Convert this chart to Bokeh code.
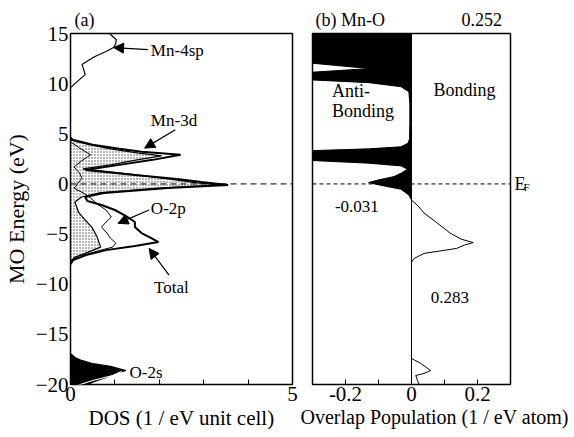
import numpy as np
from bokeh.plotting import figure
from bokeh.layouts import row
from bokeh.models import (Range1d, FixedTicker, Label, Arrow, NormalHead, Span, Title,
                          LinearAxis)
from bokeh.embed import file_html
from bokeh.resources import INLINE

FONT = "Liberation Serif"

# ---------------- data ----------------
# (a) DOS, energies in eV, DOS in 1/eV unit cell
e_total = [4.6, 4.4, 3.9, 3.5, 3.2, 2.9, 2.4, 1.9, 1.4, 0.9, 0.5, 0.2, -0.1, -0.4, -0.9, -1.3,
           -1.7, -2.1, -2.6, -3.2, -3.8, -4.3, -4.9, -5.4, -5.8, -6.2, -6.6, -7.1, -7.6, -8.0]
dos_total = [0.0, 0.05, 0.5, 1.1, 1.6, 2.48, 1.85, 1.1, 0.33, 1.45, 2.4, 2.95, 3.55, 2.2, 0.75, 0.33,
             0.38, 0.7, 1.0, 1.25, 1.45, 1.45, 1.6, 1.82, 1.98, 1.45, 0.8, 0.35, 0.06, 0.0]

e_mn3d = [4.4, 4.0, 3.5, 3.1, 2.8, 2.4, 1.9, 1.5, 1.0, 0.5, 0.1, -0.1, -0.4, -0.9, -1.3, -1.8,
          -2.8, -3.6, -4.3, -5.3, -6.3, -6.8, -7.3, -7.7]
dos_mn3d = [0.0, 0.35, 0.9, 1.5, 2.05, 1.5, 0.9, 0.28, 1.3, 2.2, 2.85, 3.4, 2.05, 0.65, 0.25, 0.1,
            0.18, 0.33, 0.48, 0.6, 0.68, 0.4, 0.1, 0.0]

e_o2p = [4.2, 3.6, 2.9, 2.3, 1.7, 1.1, 0.57, -0.43, -0.93, -1.4, -2.0, -2.6, -3.3, -3.8, -4.3,
         -4.9, -5.4, -5.9, -6.3, -6.7, -7.2, -7.6]
dos_o2p = [0.0, 0.2, 0.45, 0.25, 0.08, 0.2, 0.26, 0.08, 0.3, 0.45, 0.6, 0.8, 0.92, 0.8, 0.7,
           0.82, 0.9, 1.02, 0.95, 0.6, 0.2, 0.02]

e_mn4sp = [9.6, 10.2, 10.9, 11.4, 11.9, 12.3, 12.7, 13.2, 13.6, 14.0, 14.4, 14.7, 15.0, 15.5]
dos_mn4sp = [0.0, 0.15, 0.33, 0.3, 0.26, 0.4, 0.55, 0.8, 0.97, 1.02, 1.03, 0.95, 0.88, 0.8]

e_o2s = [-16.9, -17.3, -17.6, -17.9, -18.2, -18.6, -18.9, -19.3, -19.8, -20.3]
dos_o2s = [0.0, 0.1, 0.25, 0.47, 0.9, 1.25, 1.0, 0.8, 0.48, 0.3]
e_o2s_part = [-20.1, -19.6, -19.1, -18.7]
dos_o2s_part = [0.15, 0.5, 0.95, 1.15]

# (b) Mn-O overlap population (1 / eV atom)
e_op = [15.5, 12.3, 12.1, 11.5, 11.1, 10.9, 10.6, 10.4, 10.1, 9.7, 9.2, 8.0, 6.0, 4.5, 4.07,
        3.7, 3.5, 3.33, 3.0, 2.5, 2.33, 2.07, 1.8, 1.47, 1.1, 0.73, 0.4, 0.13, -0.2, -0.53,
        -1.1, -1.6, -2.2, -2.9, -3.9, -4.9, -5.5, -5.85, -6.1, -6.43, -6.93, -7.43, -7.8,
        -17.4, -17.9, -18.6, -18.9, -19.1, -19.6, -20.0]
op = [-0.6, -0.6, -0.32, -0.127, -0.32, -0.6, -0.6, -0.32, -0.13, -0.032, -0.008, -0.005, -0.005,
      -0.006, -0.01, -0.032, -0.13, -0.29, -0.6, -0.6, -0.3, -0.13, -0.032, -0.012, -0.03,
      -0.053, -0.1, -0.13, -0.083, -0.032, -0.008, 0.0, 0.02, 0.038, 0.078, 0.117, 0.15,
      0.187, 0.16, 0.137, 0.038, 0.008, 0.0, 0.0, 0.028, 0.058, 0.038, 0.013, 0.018, 0.023]

y_ticks = [-20, -15, -10, -5, 0, 5, 10, 15]
dos_ticks = [0, 5]
dos_minor = [1, 2, 3, 4]
op_ticks = [-0.2, 0, 0.2]
op_minor = [-0.1, 0.1]

NB = "\u00a0"


def style(p):
    p.grid.visible = False
    p.outline_line_color = "black"
    p.outline_line_width = 1.5
    for ax in p.axis:
        ax.axis_line_color = None
        ax.major_label_text_font = FONT
        ax.major_label_text_font_size = "21px"
        ax.major_label_text_color = "black"
        ax.major_label_standoff = 2
        ax.major_tick_out = 0
        ax.minor_tick_out = 0
    p.background_fill_color = "white"


def lab(p, x, y, text, size="17px", align="left", baseline="middle"):
    p.add_layout(Label(x=x, y=y, text=text, text_font=FONT, text_font_size=size,
                       text_align=align, text_baseline=baseline, text_color="black"))


def arrow(p, xs, ys, xe, ye):
    p.add_layout(Arrow(end=NormalHead(size=10, fill_color="black", line_color="black",
                                      line_width=1),
                       x_start=xs, y_start=ys, x_end=xe, y_end=ye,
                       line_color="black", line_width=1.2))


def title(text, size, align, offset, standoff):
    return Title(text=text, text_font=FONT, text_font_size=size, text_font_style="normal",
                 text_color="black", align=align, offset=offset, standoff=standoff)


# ---------------- panel (a) ----------------
p1 = figure(width=298, height=437, x_range=Range1d(0, 5), y_range=Range1d(-20, 15),
            output_backend="svg", toolbar_location=None,
            min_border_left=66, min_border_right=6, min_border_top=33, min_border_bottom=53)
p1.title = title("(a)", "18px", "left", 4, 7)

p1.harea(y=e_mn3d, x1=0, x2=dos_mn3d, fill_alpha=0, hatch_pattern="dot",
         hatch_color="black", hatch_scale=3, hatch_alpha=0.7, hatch_weight=1)
p1.line(dos_mn3d, e_mn3d, line_color="black", line_width=1.2)
p1.line(dos_o2p, e_o2p, line_color="black", line_width=1.0)
p1.line(dos_total, e_total, line_color="black", line_width=2.0)
p1.line(dos_mn4sp, e_mn4sp, line_color="black", line_width=1.2)
p1.harea(y=e_o2s, x1=0, x2=dos_o2s, fill_color="black")
p1.line(dos_o2s, e_o2s, line_color="black", line_width=1.2)
p1.line(dos_o2s_part, e_o2s_part, line_color="white", line_width=1.2)

p1.add_layout(Span(location=0, dimension="width", line_color="black",
                   line_width=1, line_dash="6 4"))

style(p1)
p1.yaxis.ticker = FixedTicker(ticks=y_ticks)
p1.yaxis.major_label_standoff = 2
p1.yaxis.major_tick_in = 0
p1.yaxis.minor_tick_in = 0
p1.yaxis.axis_label = "MO Energy (eV)"
p1.yaxis.axis_label_text_font = FONT
p1.yaxis.axis_label_text_font_size = "22px"
p1.yaxis.axis_label_text_font_style = "normal"
p1.yaxis.axis_label_text_color = "black"
p1.yaxis.axis_label_standoff = 4
p1.xaxis.ticker = FixedTicker(ticks=dos_ticks, minor_ticks=dos_minor)
p1.xaxis.major_tick_in = 5
p1.xaxis.minor_tick_in = 5
p1.xaxis.minor_tick_line_color = "black"
p1.add_layout(title("DOS (1 / eV unit cell)", "21px", "center", 6, 0), "below")

arrow(p1, 1.75, 13.4, 0.97, 13.6)
lab(p1, 1.81, 13.3, "Mn-4sp")
arrow(p1, 2.36, 5.4, 1.67, 3.57)
lab(p1, 1.81, 6.35, "Mn-3d")
arrow(p1, 1.77, -2.6, 1.07, -3.93)
lab(p1, 1.81, -2.45, "O-2p")
arrow(p1, 2.22, -9.1, 1.77, -6.43)
lab(p1, 1.88, -10.35, "Total")
lab(p1, 1.33, -18.8, "O-2s")

# ---------------- panel (b) ----------------
p2 = figure(width=276, height=437, x_range=Range1d(-0.3, 0.3), y_range=p1.y_range,
            output_backend="svg", toolbar_location=None,
            min_border_left=14, min_border_right=64, min_border_top=33, min_border_bottom=53)
p2.title = title("(b) Mn-O" + NB * 17 + "0.252", "18px", "left", 3, 7)

op_neg = np.minimum(np.array(op), 0.0)
p2.harea(y=e_op, x1=0, x2=op_neg, fill_color="black")
p2.line(op, e_op, line_color="black", line_width=1.0)
p2.add_layout(Span(location=0, dimension="height", line_color="black", line_width=1))
p2.add_layout(Span(location=0, dimension="width", line_color="black",
                   line_width=1, line_dash="4 3"))

style(p2)
p2.yaxis.visible = False
p2.xaxis.ticker = FixedTicker(ticks=op_ticks, minor_ticks=op_minor)
p2.xaxis.major_tick_in = 5
p2.xaxis.minor_tick_in = 5
p2.xaxis.minor_tick_line_color = "black"
p2.xaxis.major_label_overrides = {-0.2: "-0.2", 0: "0", 0.2: "0.2"}
p2.add_layout(title("Overlap Population (1 / eV atom)", "20px", "left", -12, 0), "below")

# Fermi level label E_F on the right side
ax_e = LinearAxis(ticker=FixedTicker(ticks=[0]), major_label_overrides={0: "E"},
                  axis_line_color=None, major_tick_in=0, major_tick_out=0,
                  minor_tick_in=0, minor_tick_out=0, major_label_standoff=4,
                  major_label_text_font=FONT, major_label_text_font_size="18px",
                  major_label_text_color="black")
ax_f = LinearAxis(ticker=FixedTicker(ticks=[-0.3]), major_label_overrides={-0.3: "F"},
                  axis_line_color=None, major_tick_in=0, major_tick_out=0,
                  minor_tick_in=0, minor_tick_out=0, major_label_standoff=-5,
                  major_label_text_font=FONT, major_label_text_font_size="11px",
                  major_label_text_color="black")
p2.add_layout(ax_e, "right")
p2.add_layout(ax_f, "right")

lab(p2, -0.241, 9.23, "Anti-", size="18px")
lab(p2, -0.241, 7.23, "Bonding", size="18px")
lab(p2, 0.067, 9.4, "Bonding", size="18px")
lab(p2, -0.232, -2.3, "-0.031", size="17px")
lab(p2, 0.058, -11.35, "0.283", size="17px")

layout = row(p1, p2)
open("out.html", "w").write(file_html(layout, INLINE))
